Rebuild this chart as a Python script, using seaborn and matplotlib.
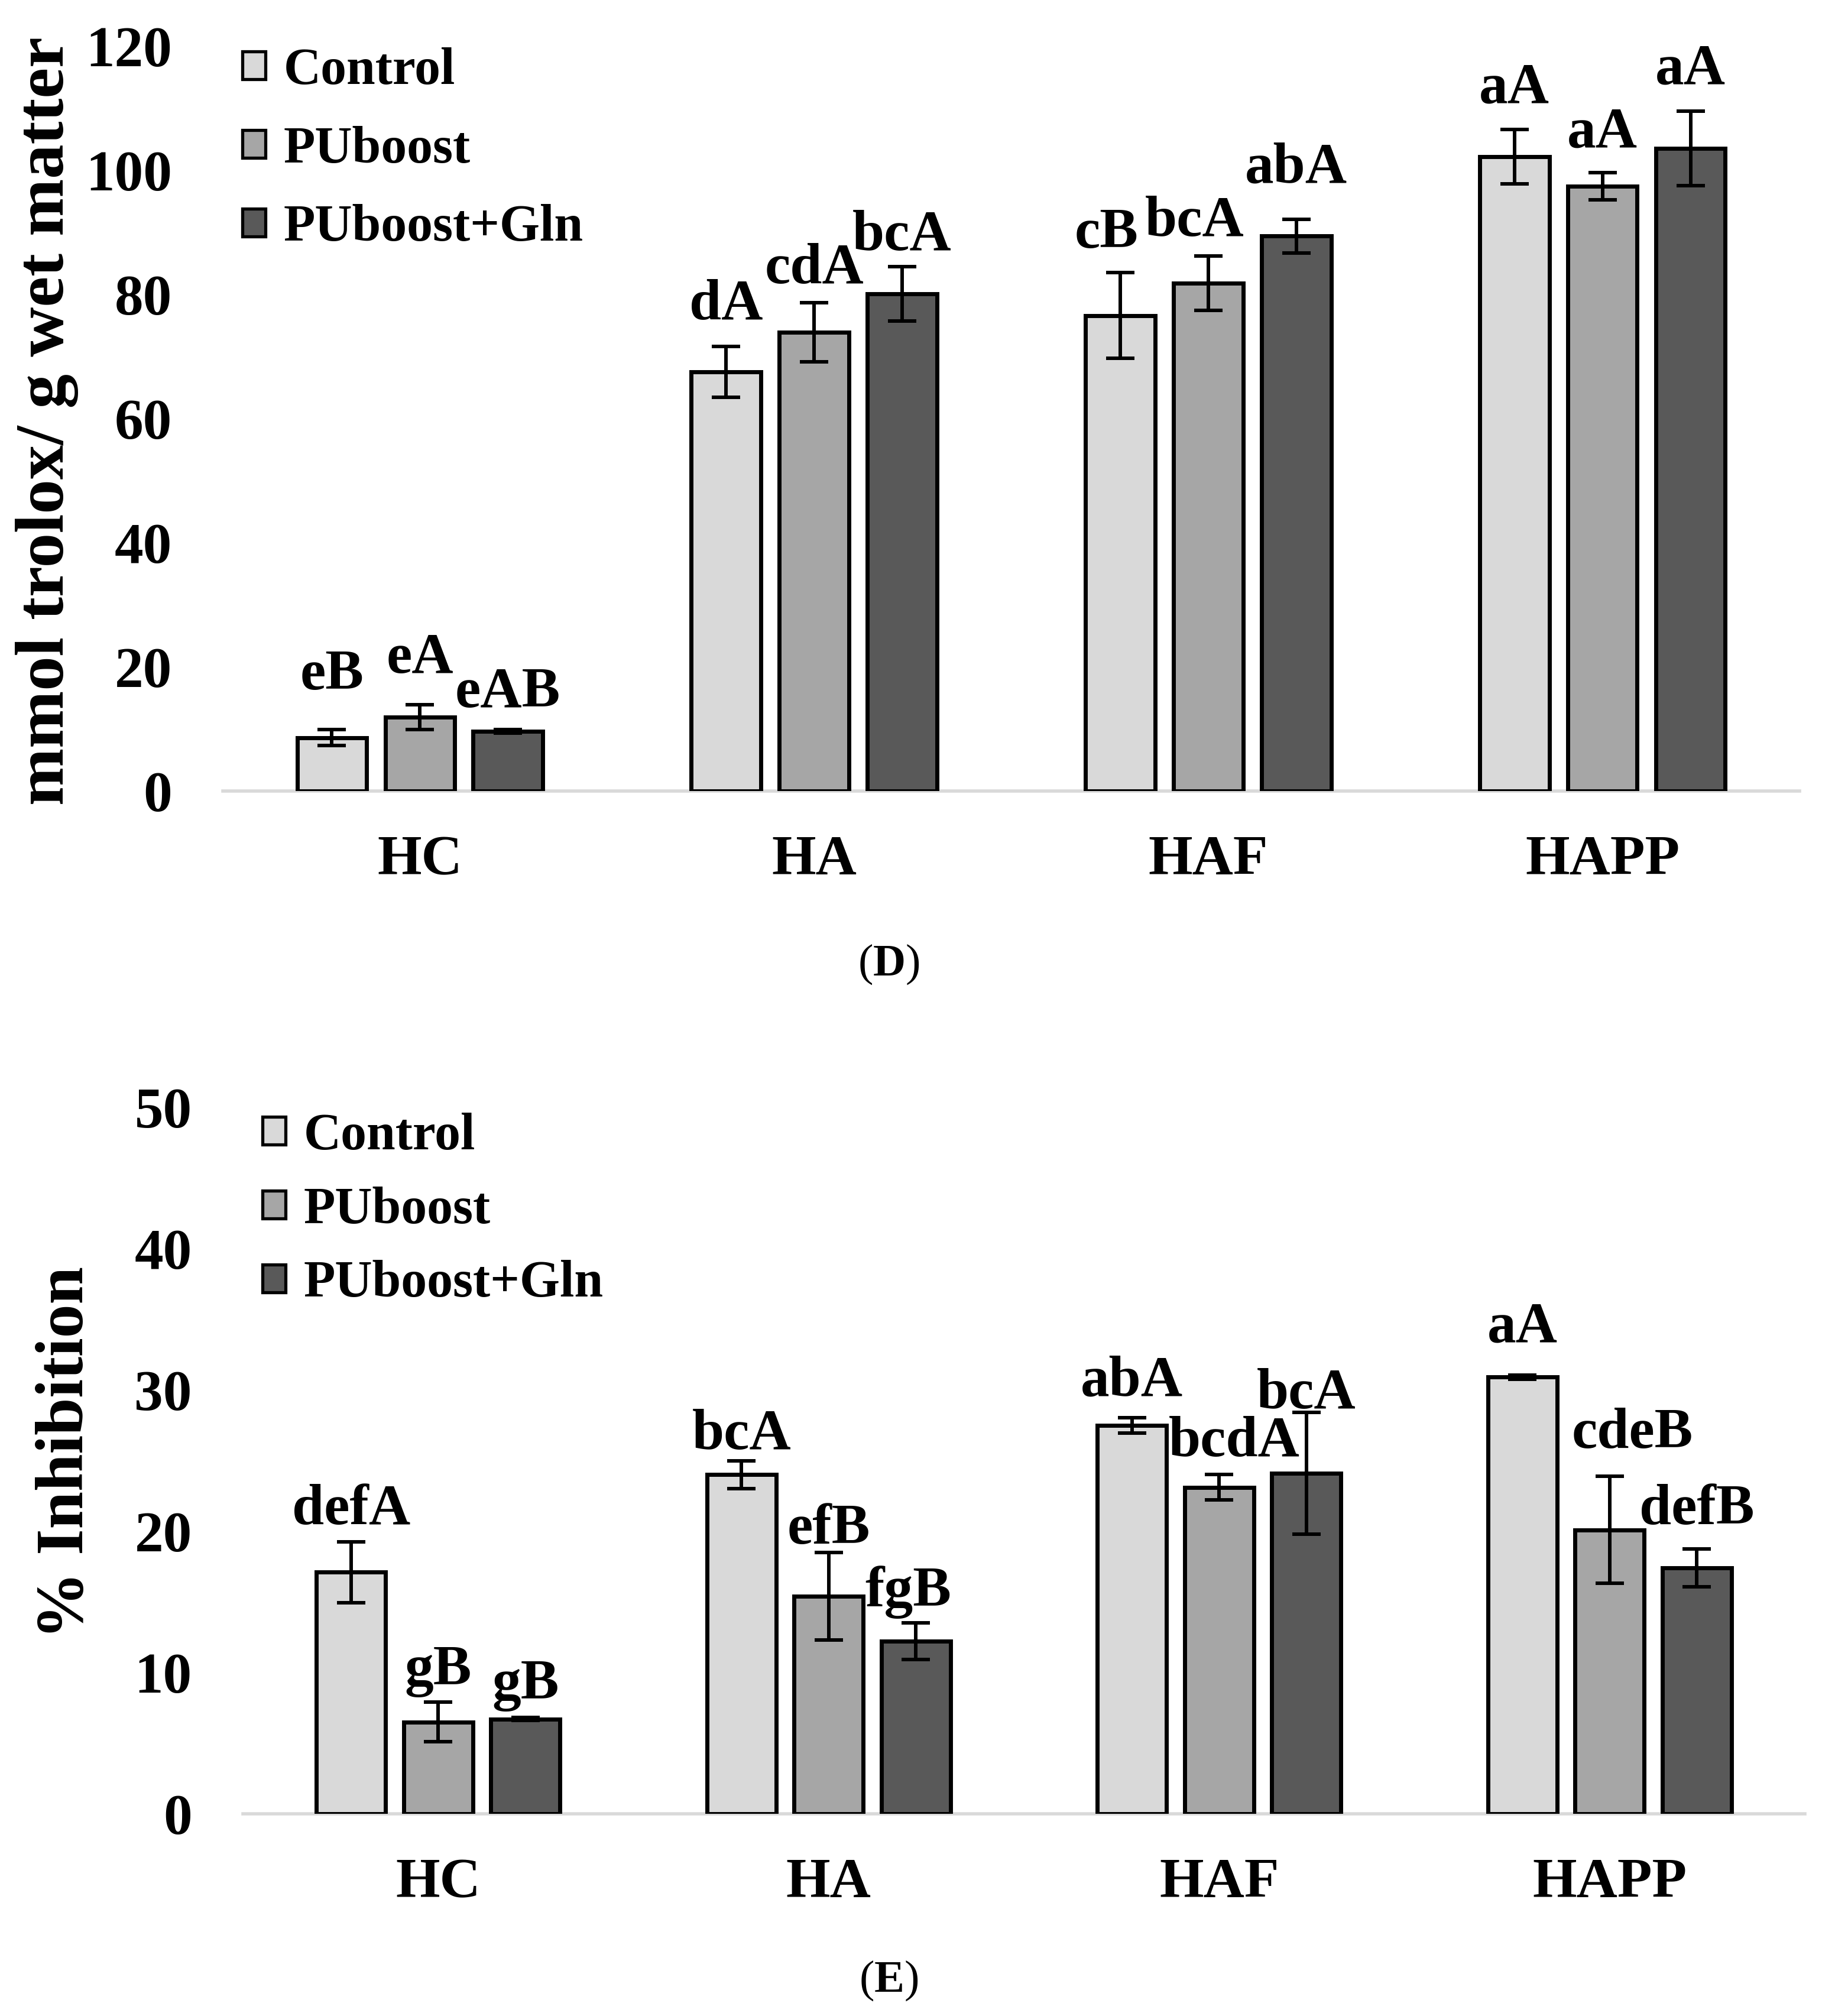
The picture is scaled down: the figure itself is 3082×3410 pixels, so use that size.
import numpy as np
import pandas as pd
import seaborn as sns
import matplotlib
matplotlib.use("Agg")
import matplotlib.pyplot as plt
from matplotlib.patches import Patch

# ---------------- data ----------------
categories = ["HC", "HA", "HAF", "HAPP"]
groups = ["Control", "PUboost", "PUboost+Gln"]
colors = ["#d9d9d9", "#a6a6a6", "#595959"]

# Panel D: mmol trolox / g wet matter
d_control = [8.6, 67.5, 76.6, 102.2]
d_puboost = [11.9, 73.9, 81.8, 97.4]
d_gln = [9.6, 80.1, 89.4, 103.5]
d_control_err = [1.3, 4.1, 6.9, 4.4]
d_puboost_err = [2.0, 4.8, 4.4, 2.2]
d_gln_err = [0.3, 4.35, 2.7, 6.0]
d_control_letters = ["eB", "dA", "cB", "aA"]
d_puboost_letters = ["eA", "cdA", "bcA", "aA"]
d_gln_letters = ["eAB", "bcA", "abA", "aA"]

# Panel E: % Inhibition
e_control = [17.1, 24.0, 27.5, 30.9]
e_puboost = [6.5, 15.4, 23.1, 20.1]
e_gln = [6.7, 12.2, 24.1, 17.4]
e_control_err = [2.15, 1.0, 0.55, 0.15]
e_puboost_err = [1.4, 3.1, 0.9, 3.8]
e_gln_err = [0.1, 1.3, 4.3, 1.35]
e_control_letters = ["defA", "bcA", "abA", "aA"]
e_puboost_letters = ["gB", "efB", "bcdA", "cdeB"]
e_gln_letters = ["gB", "fgB", "bcA", "defB"]

# annotation layout (letter heights in data units, small x nudges in category units)
d_label_y = [[19.5, 79.2, 90.7, 114.1], [22.2, 85.0, 92.6, 106.9], [16.7, 90.3, 101.2, 117.1]]
d_label_dx = [[0, 0, -0.035, 0], [0, 0, -0.035, 0], [0, 0, 0, 0]]
e_label_y = [[21.9, 27.2, 31.0, 34.8], [10.5, 20.5, 26.7, 27.3], [9.5, 16.1, 30.1, 21.9]]
e_label_dx = [[0, 0, 0, 0], [0, 0, 0.038, 0.058], [0, -0.02, 0, 0]]

# ---------------- style ----------------
sns.set_theme(style="white")
plt.rcParams["font.family"] = ["Liberation Serif", "DejaVu Serif"]
plt.rcParams["font.weight"] = "bold"
plt.rcParams["mathtext.fontset"] = "custom"
plt.rcParams["mathtext.bf"] = "Liberation Serif:bold"
plt.rcParams["mathtext.rm"] = "Liberation Serif"
for k in ["text.color", "axes.labelcolor", "xtick.color", "ytick.color", "xtick.labelcolor", "ytick.labelcolor"]:
    plt.rcParams[k] = "black"

W, H = 3082, 3410
fig = plt.figure(figsize=(W / 100, H / 100), dpi=100)

TICK_FS = 70
CAT_FS = 69
LET_FS = 70
LEG_FS = 63
BAR_W = 0.67
BAR_GAP = 0.21


def make_df(vals_list):
    rows = []
    for g, vals in zip(groups, vals_list):
        for c, v in zip(categories, vals):
            rows.append({"category": c, "group": g, "value": v})
    return pd.DataFrame(rows)


def draw_panel(ax, vals_list, errs_list, letters_list, label_y, label_dx, ymax, ystep):
    df = make_df(vals_list)
    sns.barplot(data=df, x="category", y="value", hue="group", order=categories,
                hue_order=groups, palette=colors, saturation=1, width=BAR_W, gap=BAR_GAP,
                edgecolor="black", linewidth=5, errorbar=None, legend=False, ax=ax)
    slot = BAR_W / 3
    for p in ax.patches:
        w = p.get_width()
        xc = p.get_x() + w / 2
        ci = int(round(xc))
        hi = int(round((xc - ci) / slot)) + 1
        if not (0 <= ci < len(categories) and 0 <= hi < len(groups)):
            continue
        v = vals_list[hi][ci]
        e = errs_list[hi][ci]
        ax.errorbar(xc, v, yerr=e, fmt="none", ecolor="black", elinewidth=4.3,
                    capsize=17, capthick=4.3, zorder=5)
        ax.annotate(letters_list[hi][ci], xy=(xc + label_dx[hi][ci], label_y[hi][ci]),
                    xytext=(0, -7), textcoords="offset points", ha="center", va="center",
                    fontsize=LET_FS, fontweight="bold", color="black", zorder=6)
    ax.set_xlim(-0.5, len(categories) - 0.5)
    ax.set_ylim(0, ymax)
    ax.set_yticks(np.arange(0, ymax + 0.1, ystep))
    ax.set_yticklabels([f"{int(t)}" for t in np.arange(0, ymax + 0.1, ystep)])
    ax.set_xlabel("")
    ax.set_ylabel("")
    for s in ["left", "top", "right"]:
        ax.spines[s].set_visible(False)
    ax.spines["bottom"].set_color("#d9d9d9")
    ax.spines["bottom"].set_linewidth(4)
    ax.spines["bottom"].set_zorder(0)
    ax.tick_params(axis="y", length=0, labelsize=TICK_FS, pad=62, labelcolor="black")
    ax.tick_params(axis="x", length=0, labelsize=CAT_FS, pad=54, labelcolor="black")
    for t in ax.get_xticklabels() + ax.get_yticklabels():
        t.set_fontweight("bold")
    ax.set_facecolor("none")


def legend_handles():
    return [Patch(facecolor=c, edgecolor="black", linewidth=3.8) for c in colors]


# ---------------- panel D ----------------
axD = fig.add_axes([377 / W, 1 - 1338 / H, 2667 / W, 1260 / H])
draw_panel(axD, [d_control, d_puboost, d_gln], [d_control_err, d_puboost_err, d_gln_err],
           [d_control_letters, d_puboost_letters, d_gln_letters], d_label_y, d_label_dx, 120, 20)
fig.legend(legend_handles(), groups, loc="upper left", bbox_to_anchor=(410 / W, 1 - 80 / H),
           bbox_transform=fig.transFigure, frameon=False, borderpad=0,
           borderaxespad=0, handlelength=0.45, handleheight=0.45, handletextpad=0.35,
           labelspacing=0.59, labelcolor="black", prop={"weight": "bold", "size": LEG_FS})
fig.text(80 / W, 1 - 712 / H, "mmol trolox/ g wet matter", rotation=90, ha="center",
         va="center", fontsize=84, fontweight="bold", color="black")
fig.text(1503 / W, 1 - 1631 / H, "($\\mathbf{D}$)", ha="center", va="center",
         fontsize=55, fontweight="normal", color="black")

# ---------------- panel E ----------------
axE = fig.add_axes([411 / W, 1 - 3068 / H, 2642 / W, 1195 / H])
draw_panel(axE, [e_control, e_puboost, e_gln], [e_control_err, e_puboost_err, e_gln_err],
           [e_control_letters, e_puboost_letters, e_gln_letters], e_label_y, e_label_dx, 50, 10)
fig.legend(legend_handles(), groups, loc="upper left", bbox_to_anchor=(444 / W, 1 - 1882 / H),
           bbox_transform=fig.transFigure, frameon=False, borderpad=0,
           borderaxespad=0, handlelength=0.45, handleheight=0.45, handletextpad=0.35,
           labelspacing=0.50, labelcolor="black", prop={"weight": "bold", "size": LEG_FS})
fig.text(112 / W, 1 - 2457 / H, "% Inhibition", rotation=90, ha="center",
         va="center", fontsize=82, fontweight="bold", color="black")
fig.text(1503 / W, 1 - 3350 / H, "($\\mathbf{E}$)", ha="center", va="center",
         fontsize=55, fontweight="normal", color="black")

fig.savefig("out.png", dpi=100, facecolor="white")
